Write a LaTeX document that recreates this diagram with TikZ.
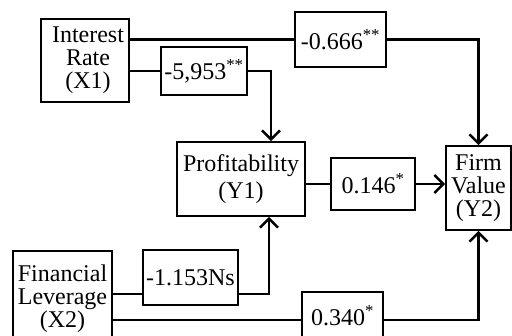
\documentclass[tikz,border=0pt]{standalone}
\usepackage{fontspec}
\setmainfont{Liberation Serif}
\usetikzlibrary{arrows.meta}
\begin{document}
\begin{tikzpicture}[x=1pt,y=-1pt,
  box/.style={draw=black,line width=1.8pt,fill=white,inner sep=0pt,align=center,
    font=\fontsize{24}{23}\selectfont},
  conn/.style={line width=2.6pt,line join=miter},
  arr/.style={conn,-{Straight Barb[length=9pt,width=18pt,line width=2.4pt]}}]
\useasboundingbox (0,0) rectangle (512,336);
% main boxes
\node[box,minimum width=88pt,minimum height=83pt] (x1) at (85,60.5) {\hspace*{6pt}Interest\\\hspace*{6pt}Rate\\\hspace*{6pt}(X1)};
\node[box,minimum width=99pt,minimum height=96pt] (x2) at (62.5,299) {Financial\\Leverage\\(X2)};
\node[box,minimum width=128pt,minimum height=74pt,font=\fontsize{24}{27}\selectfont] (y1) at (241,179) {Profitability\\(Y1)};
\node[box,minimum width=65pt,minimum height=84pt] (y2) at (478.5,188) {Firm\\Value\\(Y2)};
% coefficient boxes
\node[box,minimum width=86pt,minimum height=48pt] (b1) at (204,71) {-5,953\textsuperscript{**}};
\node[box,minimum width=91pt,minimum height=55pt] (b2) at (340.5,39.5) {-0.666\textsuperscript{**}};
\node[box,minimum width=84pt,minimum height=52pt] (b3) at (373,184) {0.146\textsuperscript{*}};
\node[box,minimum width=95pt,minimum height=55pt] (b4) at (190.5,277.5) {-1.153Ns};
\node[box,minimum width=81pt,minimum height=48pt] (b5) at (342.5,316) {0.340\textsuperscript{*}};
% helper coordinates
\coordinate (l1) at (0,39.5);
\coordinate (l4) at (0,294);
\coordinate (l5) at (0,320);
\coordinate (v1) at (271,0);
\coordinate (v4) at (269,0);
% connectors
\draw[conn] (x1.east |- l1) -- (b2.west);
\draw[arr] (b2.east) -| (y2.north);
\draw[conn] (x1.east |- b1) -- (b1.west);
\draw[arr] (b1.east) -| (y1.north -| v1);
\draw[conn] (y1.east |- b3) -- (b3.west);
\draw[arr] (b3.east) -- (y2.west |- b3);
\draw[conn] (x2.east |- l4) -- (b4.west |- l4);
\draw[arr] (b4.east |- l4) -| (y1.south -| v4);
\draw[conn] (x2.east |- l5) -- (b5.west |- l5);
\draw[arr] (b5.east |- l5) -| (y2.south);
\end{tikzpicture}
\end{document}
